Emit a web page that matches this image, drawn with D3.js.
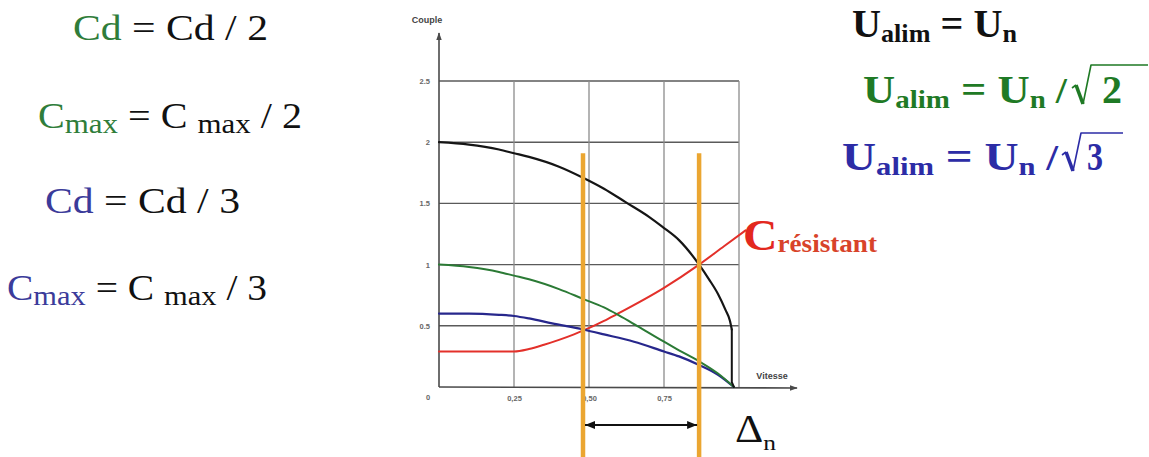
<!DOCTYPE html>
<html>
<head>
<meta charset="utf-8">
<script src="https://cdn.jsdelivr.net/npm/d3@7"></script>
<style>
  html, body { margin: 0; padding: 0; background: #fff; }
  svg { display: block; }
</style>
</head>
<body>
<svg id="chart" width="1149" height="457"></svg>
<script>
// ---- Axis ticks and grid (speed in p.u., torque in p.u.) ----
const xTicks = [0.25, 0.5, 0.75];
const xTickLabels = ["0,25", "0,50", "0,75"];
const yTicks = [0.5, 1, 1.5, 2, 2.5];
const yTickLabels = ["0.5", "1", "1.5", "2", "2.5"];
const gridX = [0.25, 0.5, 0.75, 1];
const gridY = [0.5, 1, 1.5, 2, 2.5];

// ---- Motor torque curves: [vitesse, couple] ----
// Supply U = Un
const coupleUn = [
  [0, 2.0], [0.1, 1.98], [0.2, 1.94], [0.25, 1.91], [0.3, 1.88], [0.4, 1.8],
  [0.48, 1.71], [0.55, 1.62], [0.622, 1.51], [0.7, 1.39], [0.744, 1.31],
  [0.8, 1.2], [0.867, 1.0], [0.9, 0.88], [0.93, 0.76], [0.955, 0.63],
  [0.97, 0.54], [0.976, 0.47]
];
// Final drop of the U = Un curve to zero torque
const coupleUnChute = [[0.976, 0.47], [0.976, 0.04], [0.983, 0]];
// Supply U = Un / sqrt(2)
const coupleUn2 = [
  [0, 1.0], [0.1, 0.98], [0.2, 0.94], [0.25, 0.91], [0.3, 0.88], [0.4, 0.8],
  [0.48, 0.72], [0.55, 0.65], [0.6, 0.585], [0.66, 0.5], [0.75, 0.37],
  [0.8, 0.3], [0.867, 0.21], [0.93, 0.11], [0.983, 0]
];
// Supply U = Un / sqrt(3)
const coupleUn3 = [
  [0, 0.6], [0.1, 0.6], [0.2, 0.59], [0.25, 0.58], [0.3, 0.56], [0.377, 0.52],
  [0.48, 0.47], [0.55, 0.43], [0.65, 0.37], [0.75, 0.29], [0.8, 0.25],
  [0.867, 0.18], [0.93, 0.1], [0.983, 0]
];
// Load (resistant) torque
const coupleResistant = [
  [0, 0.29], [0.1, 0.29], [0.25, 0.29], [0.3, 0.31], [0.35, 0.345],
  [0.4, 0.385], [0.45, 0.43], [0.48, 0.46], [0.55, 0.54], [0.589, 0.59],
  [0.75, 0.81], [0.867, 1.0], [0.95, 1.15], [1.022, 1.28]
];
// Operating speeds (intersections) and the top of their markers
const vitessesFonctionnement = [0.48, 0.867];
const hautMarqueur = 1.91;

const W = 1149, H = 457;
const svg = d3.select("#chart");
svg.append("rect").attr("width", W).attr("height", H).attr("fill", "#fff");

const x = d3.scaleLinear().domain([0, 1]).range([439, 739]);
const y = d3.scaleLinear().domain([0, 2.5]).range([387, 81]);

const COL = {
  black: "#151515", green: "#2b7a35", blue: "#27278c", red: "#e3302a",
  orange: "#eba631", gridH: "#5a5a5a", gridV: "#8c8c8c", axis: "#4a4a4a"
};
const SANS = '"Liberation Sans"';
const SERIF = '"Liberation Serif"';

// ---- Grid ----
const grid = svg.append("g");
grid.selectAll("line.h").data(gridY).join("line")
  .attr("x1", x(0)).attr("x2", x(1))
  .attr("y1", d => y(d)).attr("y2", d => y(d))
  .attr("stroke", COL.gridH).attr("stroke-width", 1.4);
grid.selectAll("line.v").data(gridX).join("line")
  .attr("x1", d => x(d)).attr("x2", d => x(d))
  .attr("y1", y(0)).attr("y2", y(2.5))
  .attr("stroke", COL.gridV).attr("stroke-width", 1.3);

// ---- Axes with arrows ----
const defs = svg.append("defs");
defs.append("marker").attr("id", "axArrow").attr("viewBox", "0 0 10 10")
  .attr("refX", 9).attr("refY", 5).attr("markerWidth", 8).attr("markerHeight", 8)
  .attr("markerUnits", "userSpaceOnUse").attr("orient", "auto")
  .append("path").attr("d", "M0,1.5 L10,5 L0,8.5 Z").attr("fill", COL.axis);
defs.append("marker").attr("id", "dimArrow").attr("viewBox", "0 0 10 10")
  .attr("refX", 10).attr("refY", 5).attr("markerWidth", 10).attr("markerHeight", 10)
  .attr("markerUnits", "userSpaceOnUse").attr("orient", "auto-start-reverse")
  .append("path").attr("d", "M0,1 L10,5 L0,9 Z").attr("fill", "#111");

svg.append("line").attr("x1", x(0)).attr("x2", x(0)).attr("y1", y(0)).attr("y2", 33)
  .attr("stroke", COL.axis).attr("stroke-width", 1.6).attr("marker-end", "url(#axArrow)");
svg.append("line").attr("x1", x(0)).attr("x2", 797).attr("y1", y(0)).attr("y2", y(0) + 1)
  .attr("stroke", COL.axis).attr("stroke-width", 1.6).attr("marker-end", "url(#axArrow)");

function styleTicks(g) {
  g.select(".domain").remove();
  g.attr("font-family", null);
  g.selectAll("text").style("font-family", SANS).attr("font-size", 7.5)
    .attr("font-weight", "bold").attr("fill", "#666");
}
const xAxis = d3.axisBottom(x).tickValues(xTicks).tickSize(0)
  .tickFormat((d, i) => xTickLabels[i]);
svg.append("g").attr("transform", `translate(0,${y(0) + 6})`).call(xAxis).call(styleTicks);
const yAxis = d3.axisLeft(y).tickValues(yTicks).tickSize(0)
  .tickFormat((d, i) => yTickLabels[i]);
svg.append("g").attr("transform", `translate(${x(0) - 6},0)`).call(yAxis).call(styleTicks);

svg.append("text").style("font-family", SANS).attr("x", 428).attr("y", 400).attr("text-anchor", "middle")
  .attr("font-size", 7.5).attr("font-weight", "bold").attr("fill", "#666").text("0");
svg.append("text").style("font-family", SANS).attr("x", 427).attr("y", 23).attr("text-anchor", "middle")
  .attr("font-size", 9).attr("font-weight", "bold").attr("fill", "#444").text("Couple");
svg.append("text").style("font-family", SANS).attr("x", 772).attr("y", 379).attr("text-anchor", "middle")
  .attr("font-size", 9).attr("font-weight", "bold").attr("fill", "#444").text("Vitesse");

// ---- Curves ----
const smooth = d3.line().x(d => x(d[0])).y(d => y(d[1])).curve(d3.curveMonotoneX);
const straight = d3.line().x(d => x(d[0])).y(d => y(d[1]));
const curves = svg.append("g").attr("fill", "none")
  .attr("stroke-linejoin", "round").attr("stroke-linecap", "round");

curves.append("path").attr("d", smooth(coupleResistant))
  .attr("stroke", COL.red).attr("stroke-width", 2);
curves.append("path").attr("d", smooth(coupleUn3))
  .attr("stroke", COL.blue).attr("stroke-width", 2.2);
curves.append("path").attr("d", smooth(coupleUn2))
  .attr("stroke", COL.green).attr("stroke-width", 2);
curves.append("path").attr("d", smooth(coupleUn))
  .attr("stroke", COL.black).attr("stroke-width", 2.2);
curves.append("path").attr("d", straight(coupleUnChute))
  .attr("stroke", COL.black).attr("stroke-width", 2);

// ---- Operating points: vertical markers and speed range ----
svg.append("g").selectAll("line").data(vitessesFonctionnement).join("line")
  .attr("x1", d => x(d)).attr("x2", d => x(d))
  .attr("y1", y(hautMarqueur)).attr("y2", H)
  .attr("stroke", COL.orange).attr("stroke-width", 4.5);

svg.append("line")
  .attr("x1", x(vitessesFonctionnement[0]) + 2).attr("x2", x(vitessesFonctionnement[1]) - 2)
  .attr("y1", 425).attr("y2", 425)
  .attr("stroke", "#111").attr("stroke-width", 2)
  .attr("marker-start", "url(#dimArrow)").attr("marker-end", "url(#dimArrow)");

// ---- Formula text ----
// Times-style advance widths (per 1000 em) used to lay runs out side by side.
const ADV = {
  normal: { "C": 667, "d": 500, " ": 250, "=": 564, "/": 278, "2": 500, "3": 500,
            "m": 778, "a": 444, "x": 500, "Δ": 612, "n": 500 },
  bold:   { "U": 722, "a": 500, "l": 278, "i": 278, "m": 833, "n": 556, " ": 250,
            "=": 570, "/": 278, "2": 500, "3": 500, "C": 722, "r": 444, "é": 444,
            "s": 389, "t": 333 }
};
function advance(str, weight, size) {
  const tab = ADV[weight];
  let w = 0;
  for (const ch of str) w += (tab[ch] || 500);
  return w * size / 1000;
}
// Runs are placed left to right and stretched together to span [x0, x1].
function formula(parts, x0, x1, baseline, weight) {
  weight = weight || "normal";
  const widths = parts.map(p => advance(p.t, weight, p.s));
  const total = d3.sum(widths);
  const k = (x1 - x0) / total;
  let cum = 0;
  parts.forEach((p, i) => {
    const lead = p.t.length - p.t.trimStart().length;
    const trail = p.t.length - p.t.trimEnd().length;
    const sp = advance(" ", weight, p.s);
    const core = p.t.trim();
    const wCore = widths[i] - (lead + trail) * sp;
    svg.append("text").style("font-family", SERIF)
      .attr("font-size", p.s).attr("font-weight", weight)
      .attr("x", x0 + (cum + lead * sp) * k).attr("y", baseline + (p.dy || 0))
      .attr("textLength", wCore * k).attr("lengthAdjust", "spacingAndGlyphs")
      .attr("fill", p.c || "#111").text(core);
    cum += widths[i];
  });
}

const txtGreen = "#2f7d3a", txtBlue = "#3b3b9a";
formula([{ t: "Cd", s: 35, c: txtGreen }, { t: " = Cd / 2", s: 35 }], 73, 268, 40);
formula([
  { t: "C", s: 35, c: txtGreen }, { t: "max", s: 27, c: txtGreen, dy: 5 },
  { t: " = C ", s: 35 }, { t: "max", s: 27, dy: 5 }, { t: " / 2", s: 35 }
], 38, 302, 128);
formula([{ t: "Cd", s: 35, c: txtBlue }, { t: " = Cd / 3", s: 35 }], 45, 240, 213);
formula([
  { t: "C", s: 35, c: txtBlue }, { t: "max", s: 27, c: txtBlue, dy: 5 },
  { t: " = C ", s: 35 }, { t: "max", s: 27, dy: 5 }, { t: " / 3", s: 35 }
], 7, 267, 300);

// Supply voltage formulas
const uGreen = "#1f7a25", uBlue = "#2c2ca6";
formula([
  { t: "U", s: 40 }, { t: "alim", s: 26, dy: 5 }, { t: " = U", s: 40 }, { t: "n", s: 26, dy: 5 }
], 852, 1017, 37, "bold");
formula([
  { t: "U", s: 40, c: uGreen }, { t: "alim", s: 26, c: uGreen, dy: 5 },
  { t: " = U", s: 40, c: uGreen }, { t: "n", s: 26, c: uGreen, dy: 5 }, { t: " /", s: 36, c: uGreen }
], 863, 1067, 103, "bold");
formula([{ t: "2", s: 40, c: uGreen }], 1102, 1122, 103, "bold");
formula([
  { t: "U", s: 40, c: uBlue }, { t: "alim", s: 26, c: uBlue, dy: 5 },
  { t: " = U", s: 40, c: uBlue }, { t: "n", s: 26, c: uBlue, dy: 5 }, { t: " /", s: 36, c: uBlue }
], 842, 1058, 170, "bold");
formula([{ t: "3", s: 40, c: uBlue }], 1087, 1103, 170, "bold");

// Radical signs
function radical(x0, base, xTop, yTop, xEnd, col) {
  svg.append("path")
    .attr("d", `M${x0},${base - 15} L${x0 + 4},${base - 18}`)
    .attr("stroke", col).attr("stroke-width", 1.6).attr("fill", "none");
  svg.append("path")
    .attr("d", `M${x0 + 4},${base - 18} L${x0 + 11},${base + 1}`)
    .attr("stroke", col).attr("stroke-width", 3.6).attr("fill", "none");
  svg.append("path")
    .attr("d", `M${x0 + 11},${base + 1} L${xTop},${yTop} L${xEnd},${yTop}`)
    .attr("stroke", col).attr("stroke-width", 1.6).attr("fill", "none")
    .attr("stroke-linejoin", "round");
}
radical(1072, 103, 1091, 65, 1148, uGreen);
radical(1062, 170, 1081, 133, 1123, uBlue);

// Curve label
formula([
  { t: "C", s: 44, c: "#e3281e" }, { t: "résistant", s: 25, c: "#d8432a", dy: 2 }
], 743, 877, 250, "bold");

// Speed-range label
formula([{ t: "Δ", s: 40 }, { t: "n", s: 22, dy: 8 }], 735, 776, 442);
</script>
</body>
</html>
